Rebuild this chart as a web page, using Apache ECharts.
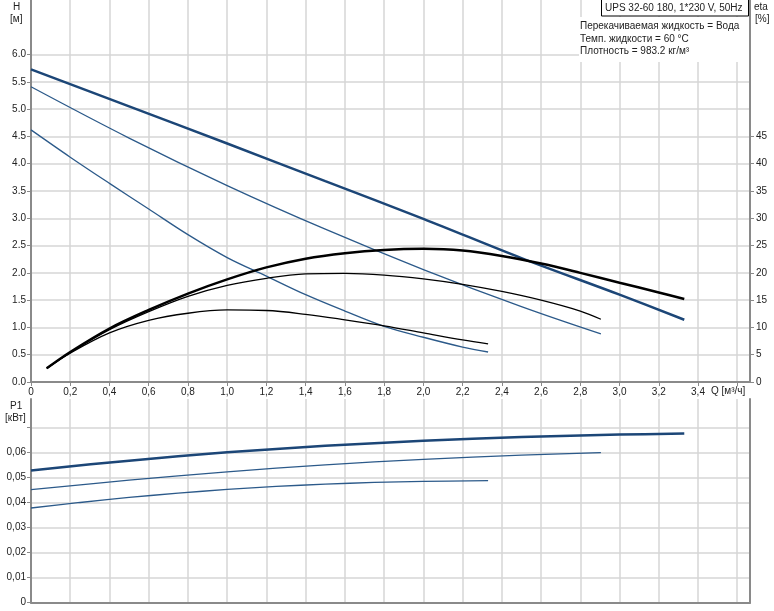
<!DOCTYPE html>
<html><head><meta charset="utf-8">
<script src="https://cdn.jsdelivr.net/npm/echarts@6/dist/echarts.min.js"></script>
<style>html,body{margin:0;padding:0;background:#fff}#c{width:774px;height:611px}</style>
</head><body><div id="c"></div>
<script>
// H curves [Q, H]
const hMax = [[0,5.73],[0.5,5.05],[1.0,4.37],[1.5,3.68],[2.0,2.99],[2.5,2.27],[3.0,1.6],[3.33,1.14]];
const hMid = [[0,5.41],[0.5,4.47],[1.0,3.60],[1.5,2.80],[2.0,2.06],[2.5,1.38],[2.905,0.88]];
const hLow = [[0,4.62],[0.2,4.12],[0.4,3.64],[0.6,3.17],[0.8,2.70],[1.0,2.28],[1.2,1.94],[1.4,1.6],[1.6,1.3],[1.8,1.02],[2.0,0.82],[2.2,0.64],[2.33,0.55]];
// eta curves [Q, %]
const etaMax = [[0.08,2.5],[0.2,5.5],[0.4,9.8],[0.6,13.2],[0.8,16.2],[1.0,18.8],[1.2,21.0],[1.4,22.6],[1.6,23.6],[1.8,24.2],[2.0,24.4],[2.2,24.1],[2.4,23.1],[2.6,21.7],[2.8,20.0],[3.0,18.2],[3.2,16.4],[3.33,15.2]];
const etaMid = [[0.08,2.5],[0.2,5.4],[0.4,9.6],[0.6,12.9],[0.8,15.7],[1.0,17.7],[1.2,19.0],[1.4,19.8],[1.6,19.9],[1.8,19.6],[2.0,18.9],[2.2,17.9],[2.4,16.6],[2.6,15.0],[2.8,13.0],[2.905,11.5]];
const etaLow = [[0.08,2.5],[0.2,5.3],[0.4,9.0],[0.6,11.3],[0.8,12.6],[1.0,13.2],[1.2,13.1],[1.4,12.4],[1.6,11.4],[1.8,10.3],[2.0,9.0],[2.2,7.7],[2.33,7.0]];
// P1 curves [Q, kW]
const pMax = [[0,0.0528],[0.5,0.0567],[1.0,0.0600],[1.5,0.0626],[2.0,0.0646],[2.5,0.0661],[3.0,0.0671],[3.33,0.0675]];
const pMid = [[0,0.0451],[0.5,0.0489],[1.0,0.0522],[1.5,0.0550],[2.0,0.0572],[2.5,0.0589],[2.905,0.0599]];
const pLow = [[0,0.0378],[0.25,0.0400],[0.5,0.0420],[0.75,0.0437],[1.0,0.0452],[1.25,0.0464],[1.5,0.0473],[1.75,0.0480],[2.0,0.0484],[2.33,0.0487]];

// tick label values
const qLabels = [0,0.2,0.4,0.6,0.8,1.0,1.2,1.4,1.6,1.8,2.0,2.2,2.4,2.6,2.8,3.0,3.2,3.4];
const qTicks = qLabels.concat([3.6]);
const hLabels = [0,0.5,1.0,1.5,2.0,2.5,3.0,3.5,4.0,4.5,5.0,5.5,6.0];
const etaLabels = [0,5,10,15,20,25,30,35,40,45];
const pLabels = [0,0.01,0.02,0.03,0.04,0.05,0.06];
const pTicks = pLabels.concat([0.07]);

const titleText = 'UPS 32-60 180, 1*230 V, 50Hz';
const infoLines = ['Перекачиваемая жидкость = Вода','Темп. жидкости = 60 °C','Плотность = 983.2 кг/м³'];

const FONT = 'Liberation Sans, Arial, sans-serif';
const FS = 10;
const GRID = '#d6d6d6';
const AXIS = '#8a8a8a';
const TXT = '#222';
const BLUE_T = '#1c4677';
const BLUE = '#2c5a8a';

const chart = echarts.init(document.getElementById('c'), null, {renderer:'canvas'});
function line(data, xi, yi, color, w){
  return {type:'line', xAxisIndex:xi, yAxisIndex:yi, data:data, showSymbol:false, symbol:'none',
    smooth:0.35, lineStyle:{color:color, width:w}, silent:true, animation:false, z:5};
}
const lab = {color:TXT, fontFamily:FONT, fontSize:FS};
chart.setOption({
  animation:false,
  grid:[
    {left:31, right:24, top:0, height:382},
    {left:31, right:24, top:399, height:203.7}
  ],
  xAxis:[
    {type:'value', gridIndex:0, min:0, max:3.665, interval:0.2,
      splitLine:{show:true, lineStyle:{color:GRID, width:1.5}},
      axisLine:{show:true, onZero:false, lineStyle:{color:AXIS, width:2}},
      axisTick:{show:true, length:4, customValues:qTicks, lineStyle:{color:AXIS}},
      axisLabel:Object.assign({show:true, margin:5, customValues:qLabels,
        formatter:function(v){ return v===0?'0':v.toFixed(1).replace('.',','); }}, lab)},
    {type:'value', gridIndex:1, min:0, max:3.665, interval:0.2,
      splitLine:{show:true, lineStyle:{color:GRID, width:1.5}},
      axisLine:{show:true, onZero:false, lineStyle:{color:AXIS, width:2}},
      axisTick:{show:false}, axisLabel:{show:false}}
  ],
  yAxis:[
    {type:'value', gridIndex:0, min:0, max:7, interval:0.5, position:'left',
      splitLine:{show:true, lineStyle:{color:GRID, width:1.5}},
      axisLine:{show:true, lineStyle:{color:AXIS, width:2}},
      axisTick:{show:true, length:4, customValues:hLabels, lineStyle:{color:AXIS}},
      axisLabel:Object.assign({margin:5, customValues:hLabels,
        formatter:function(v){ return v.toFixed(1); }}, lab)},
    {type:'value', gridIndex:0, min:0, max:70, interval:5, position:'right',
      splitLine:{show:false},
      axisLine:{show:true, lineStyle:{color:AXIS, width:2}},
      axisTick:{show:true, length:4, customValues:etaLabels, lineStyle:{color:AXIS}},
      axisLabel:Object.assign({margin:6, customValues:etaLabels,
        formatter:function(v){ return String(Math.round(v)); }}, lab)},
    {type:'value', gridIndex:1, min:0, max:0.0813, interval:0.01, position:'left',
      splitLine:{show:true, lineStyle:{color:GRID, width:1.5}},
      axisLine:{show:true, lineStyle:{color:AXIS, width:2}},
      axisTick:{show:true, length:4, customValues:pTicks, lineStyle:{color:AXIS}},
      axisLabel:Object.assign({margin:5, customValues:pLabels,
        formatter:function(v){ return v===0?'0':v.toFixed(2).replace('.',','); }}, lab)},
    {type:'value', gridIndex:1, min:0, max:0.0813, position:'right',
      splitLine:{show:false}, axisTick:{show:false}, axisLabel:{show:false},
      axisLine:{show:true, lineStyle:{color:AXIS, width:2}}}
  ],
  series:[
    line(hLow,0,0,BLUE,1.3), line(hMid,0,0,BLUE,1.3), line(hMax,0,0,BLUE_T,2.5),
    line(etaLow,0,1,'#000',1.3), line(etaMid,0,1,'#000',1.3), line(etaMax,0,1,'#000',2.5),
    line(pLow,1,2,BLUE,1.3), line(pMid,1,2,BLUE,1.3), line(pMax,1,2,BLUE_T,2.5)
  ],
  graphic:[
    {type:'text', left:13, top:2, style:{text:'H', fill:TXT, font:FS+'px '+FONT}},
    {type:'text', left:10, top:14, style:{text:'[м]', fill:TXT, font:FS+'px '+FONT}},
    {type:'text', left:10, top:401, style:{text:'P1', fill:TXT, font:FS+'px '+FONT}},
    {type:'text', left:5, top:413, style:{text:'[кВт]', fill:TXT, font:FS+'px '+FONT}},
    {type:'text', left:754, top:2, style:{text:'eta', fill:TXT, font:FS+'px '+FONT}},
    {type:'text', left:755, top:14, style:{text:'[%]', fill:TXT, font:FS+'px '+FONT}},
    {type:'text', left:711, top:386, style:{text:'Q [м³/ч]', fill:TXT, font:FS+'px '+FONT}},
    {type:'rect', shape:{x:579, y:17, width:170, height:45}, style:{fill:'#fff'}, z:10},
    {type:'rect', shape:{x:601.5, y:-1, width:147, height:17}, style:{fill:'#fff', stroke:'#000', lineWidth:1}, z:10},
    {type:'text', left:605, top:3, style:{text:titleText, fill:TXT, font:FS+'px '+FONT}, z:11},
    {type:'text', left:580, top:21, style:{text:infoLines[0], fill:TXT, font:FS+'px '+FONT}, z:11},
    {type:'text', left:580, top:34, style:{text:infoLines[1], fill:TXT, font:FS+'px '+FONT}, z:11},
    {type:'text', left:580, top:46, style:{text:infoLines[2], fill:TXT, font:FS+'px '+FONT}, z:11}
  ]
});
</script></body></html>
